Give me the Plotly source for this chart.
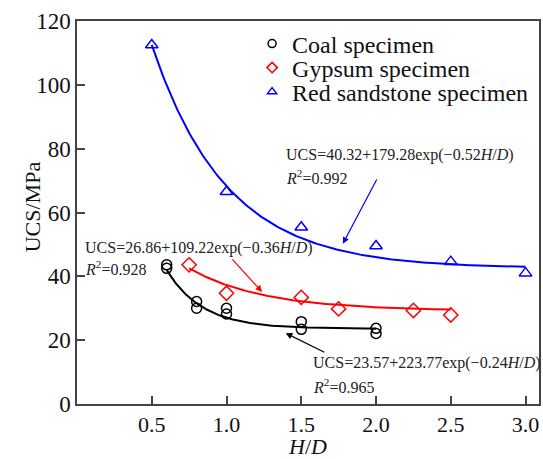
import numpy as np
import plotly.graph_objects as go

# ---- data ----
coal_x = [0.6, 0.6, 0.8, 0.8, 1.0, 1.0, 1.5, 1.5, 2.0, 2.0]
coal_y = [43.6, 42.5, 32.1, 30.0, 30.0, 28.2, 25.8, 23.4, 23.7, 22.1]

gyp_x = [0.75, 1.0, 1.5, 1.75, 2.25, 2.5]
gyp_y = [43.6, 34.7, 33.4, 29.8, 29.3, 27.9]

red_x = [0.5, 1.0, 1.5, 2.0, 2.5, 3.0]
red_y = [112.5, 66.5, 55.4, 49.5, 44.6, 41.0]

# fitted curves  y = a + b*exp(-x/t)  (as drawn in the picture)
coal_fit = [23.57, 223.77, 0.24]
gyp_fit = [29.2, 59.6, 0.5]
red_fit = [42.5, 190.3, 0.5]
coal_span = [0.6, 2.0]
gyp_span = [0.75, 2.5]
red_span = [0.5, 3.0]

x_ticks = [0.5, 1.0, 1.5, 2.0, 2.5, 3.0]
x_ticktext = ["0.5", "1.0", "1.5", "2.0", "2.5", "3.0"]
y_ticks = [0, 20, 40, 60, 80, 100, 120]

labels = ["Coal specimen", "Gypsum specimen", "Red sandstone specimen"]
eq_texts = [
    "UCS=23.57+223.77exp(\u22120.24<i>H</i>/<i>D</i>)",
    "UCS=26.86+109.22exp(\u22120.36<i>H</i>/<i>D</i>)",
    "UCS=40.32+179.28exp(\u22120.52<i>H</i>/<i>D</i>)",
]
r2_texts = ["<i>R</i><sup>2</sup>=0.965", "<i>R</i><sup>2</sup>=0.928", "<i>R</i><sup>2</sup>=0.992"]

FONT = "Liberation Serif"
colors = ["#000000", "#ff0000", "#0000ff"]
symbols = ["circle-open", "diamond-open", "triangle-up-open"]
msizes = [10, 11, 11]
legend_ids = ["legend", "legend2", "legend3"]


def curve(p, span):
    xs = np.linspace(span[0], span[1], 200)
    return xs, p[0] + p[1] * np.exp(-xs / p[2])


fig = go.Figure()
series = [(coal_x, coal_y, coal_fit, coal_span), (gyp_x, gyp_y, gyp_fit, gyp_span),
          (red_x, red_y, red_fit, red_span)]
for i, (xs, ys, p, sp) in enumerate(series):
    cx, cy = curve(p, sp)
    fig.add_trace(go.Scatter(x=cx, y=cy, mode="lines", line=dict(color=colors[i], width=2),
                             showlegend=False, hoverinfo="skip"))
    fig.add_trace(go.Scatter(x=xs, y=ys, mode="markers", name=labels[i],
                             marker=dict(symbol=symbols[i], size=msizes[i], color=colors[i],
                                         line=dict(width=1.5, color=colors[i])),
                             showlegend=False))
    # legend entry with smaller marker, each in its own legend for tight spacing
    fig.add_trace(go.Scatter(x=[None], y=[None], mode="markers", name=labels[i],
                             legend=legend_ids[i],
                             marker=dict(symbol=symbols[i], size=8, color=colors[i],
                                         line=dict(width=1.5, color=colors[i]))))

# equation annotations (text positions in data coords)
eq_pos = [(1.565, 12.85, 5.74), (0.038, 48.9, 42.6), (1.385, 78.1, 71.2)]
arrows = [((1.396, 22.2), (1.664, 16.0)), ((1.238, 35.1), (1.03, 45.8)), ((1.778, 50.2), (2.01, 70.8))]
for i in range(3):
    x0, y1, y2 = eq_pos[i]
    fig.add_annotation(x=x0, y=y1, text=eq_texts[i], showarrow=False, xanchor="left",
                       yanchor="middle", font=dict(family=FONT, size=16, color="#222"))
    fig.add_annotation(x=x0, y=y2, text=r2_texts[i], showarrow=False, xanchor="left",
                       yanchor="middle", font=dict(family=FONT, size=16, color="#222"))
    (hx, hy), (tx, ty) = arrows[i]
    fig.add_annotation(x=hx, y=hy, ax=tx, ay=ty, axref="x", ayref="y", text="",
                       showarrow=True, arrowhead=2, arrowsize=1.1, arrowwidth=1.2,
                       arrowcolor=colors[i])

# y-axis title placed as a rotated text close to the tick labels
fig.add_annotation(xref="paper", yref="paper", x=-0.097, y=0.514, text="UCS/MPa",
                   textangle=-90, showarrow=False, xanchor="center", yanchor="middle",
                   font=dict(family=FONT, size=22, color="#111"))

axis_common = dict(showline=True, linecolor="#444", linewidth=1.5, mirror=True,
                   ticks="inside", ticklen=8, tickwidth=1.5, tickcolor="#444",
                   showgrid=False, zeroline=False)

leg_common = dict(x=0.379, xanchor="left", yanchor="top", bgcolor="rgba(0,0,0,0)",
                  font=dict(family=FONT, size=24, color="#111"), itemwidth=30)
leg_y = [0.9987, 0.936, 0.8733]

fig.update_layout(
    width=543, height=459,
    margin=dict(l=77, r=2, t=21, b=55),
    paper_bgcolor="white", plot_bgcolor="white",
    font=dict(family=FONT, color="#111"),
    xaxis=dict(range=[0, 3.09], tickvals=x_ticks, ticktext=x_ticktext,
               tickfont=dict(family=FONT, size=22, color="#111"),
               title=dict(text="<i>H</i>/<i>D</i>", font=dict(family=FONT, size=22), standoff=4),
               **axis_common),
    yaxis=dict(range=[0, 120], tickvals=y_ticks,
               tickfont=dict(family=FONT, size=23, color="#111"),
               **axis_common),
    legend=dict(y=leg_y[0], **leg_common),
    legend2=dict(y=leg_y[1], **leg_common),
    legend3=dict(y=leg_y[2], **leg_common),
)

fig.write_html("out.html")
